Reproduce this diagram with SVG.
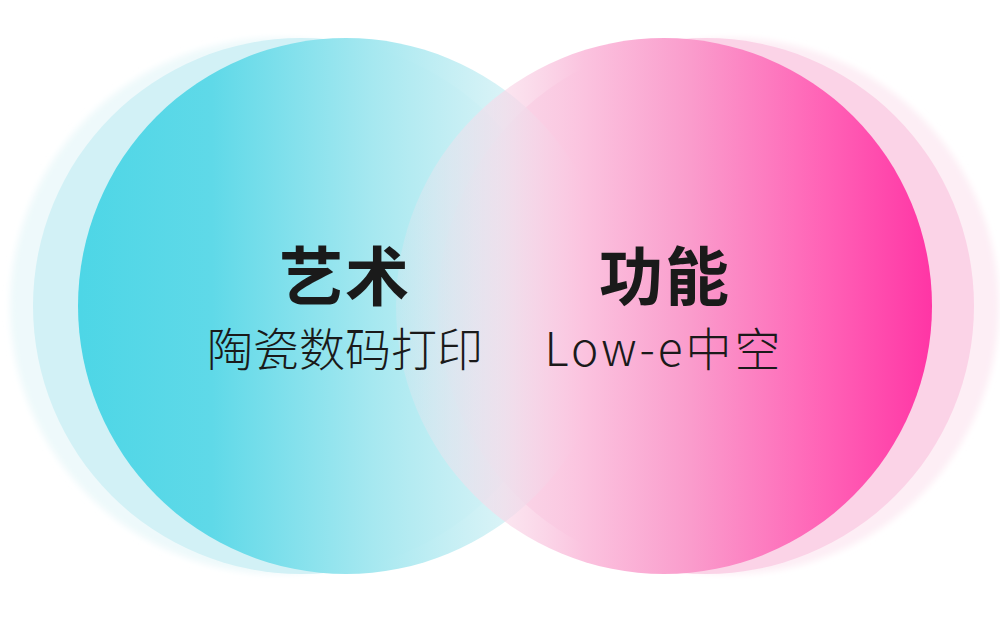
<svg xmlns="http://www.w3.org/2000/svg" width="1000" height="618" viewBox="0 0 1000 618">
  <style>
    .title { font-family: "Noto Sans CJK SC", "Noto Sans", sans-serif; font-weight: 700; font-size: 64px; fill: #1a1a1a; text-anchor: middle; }
    .sub { font-family: "Noto Sans CJK SC", "Noto Sans", sans-serif; font-weight: 300; font-size: 46px; fill: #1a1a1a; text-anchor: middle; }
  </style>
  <defs>
    <linearGradient id="gCyan" gradientUnits="userSpaceOnUse" x1="78" y1="0" x2="614" y2="0">
      <stop offset="0" stop-color="#4dd6e6"/>
      <stop offset="0.25" stop-color="#5fd9e8"/>
      <stop offset="0.55" stop-color="#a6e8f0"/>
      <stop offset="0.8" stop-color="#d6f2f6" stop-opacity="0.9"/>
      <stop offset="1" stop-color="#f2f8fa" stop-opacity="0.2"/>
    </linearGradient>
    <linearGradient id="gPink" gradientUnits="userSpaceOnUse" x1="396" y1="0" x2="932" y2="0">
      <stop offset="0" stop-color="#f7e6f0" stop-opacity="0.2"/>
      <stop offset="0.2" stop-color="#f9d8e8" stop-opacity="0.65"/>
      <stop offset="0.35" stop-color="#fbc3df"/>
      <stop offset="0.55" stop-color="#fa9ccc"/>
      <stop offset="0.8" stop-color="#ff62b6"/>
      <stop offset="1" stop-color="#ff35a5"/>
    </linearGradient>
    <filter id="soft" x="-10%" y="-10%" width="120%" height="120%">
      <feGaussianBlur stdDeviation="3"/>
    </filter>
  </defs>
  <rect width="1000" height="618" fill="#ffffff"/>
  <g id="halos">
    <circle cx="278" cy="306" r="268" fill="#eef9fb" filter="url(#soft)"/>
    <circle cx="301" cy="306" r="268" fill="#d2f1f6"/>
    <circle cx="731" cy="306" r="268" fill="#fdeef5" filter="url(#soft)"/>
    <circle cx="706" cy="306" r="268" fill="#fbd3e7"/>
  </g>
  <g id="art">
    <circle cx="346" cy="306" r="268" fill="url(#gCyan)"/>
  </g>
  <g id="function">
    <circle cx="664" cy="306" r="268" fill="url(#gPink)"/>
  </g>
  <g id="art-label">
    <text class="title" x="345" y="300" letter-spacing="2">艺术</text>
    <text class="sub" x="345" y="366">陶瓷数码打印</text>
  </g>
  <g id="function-label">
    <text class="title" x="665" y="300" letter-spacing="2">功能</text>
    <text class="sub" x="664" y="366" letter-spacing="3">Low-e中空</text>
  </g>
</svg>
